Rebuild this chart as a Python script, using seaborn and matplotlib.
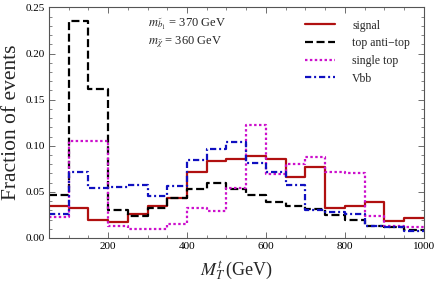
import numpy as np
import pandas as pd
import seaborn as sns
import matplotlib.pyplot as plt
from matplotlib.ticker import MultipleLocator, FormatStrFormatter

# bin edges of the transverse mass histogram (GeV)
edges = list(range(50, 1001, 50))

# fraction of events per bin
signal = [0.035, 0.033, 0.020, 0.017, 0.026, 0.035, 0.043, 0.071, 0.084, 0.086,
          0.089, 0.086, 0.066, 0.077, 0.032, 0.035, 0.039, 0.018, 0.022]
ttbar = [0.047, 0.235, 0.161, 0.030, 0.024, 0.032, 0.043, 0.053, 0.060, 0.053,
         0.047, 0.039, 0.035, 0.031, 0.025, 0.020, 0.0125, 0.012, 0.009]
single_top = [0.0225, 0.105, 0.105, 0.0135, 0.0095, 0.0095, 0.015, 0.032, 0.029, 0.054,
              0.122, 0.069, 0.080, 0.088, 0.071, 0.070, 0.024, 0.013, 0.012]
vbb = [0.026, 0.072, 0.054, 0.055, 0.057, 0.045, 0.056, 0.085, 0.097, 0.104,
       0.081, 0.071, 0.057, 0.0305, 0.028, 0.026, 0.0127, 0.012, 0.008]

labels = ['signal', 'top anti\u2212top', 'single top', 'Vbb']
colors = ['#b01010', '#000000', '#cc10cc', '#1010c0']
styles = ['-', (0, (3.6, 1.6)), (0, (1.1, 1.1)), (0, (2.8, 1.3, 0.9, 1.3))]

sns.set_style('ticks')
plt.rcParams['font.family'] = ['Liberation Serif', 'DejaVu Serif']
plt.rcParams['mathtext.fontset'] = 'stix'

centers = [(a + b) / 2 for a, b in zip(edges[:-1], edges[1:])]

fig = plt.figure(figsize=(4.36, 2.84), dpi=100)
ax = fig.add_axes([0.112, 0.162, 0.86, 0.812])

for vals, lab, col, ls in zip([signal, ttbar, single_top, vbb], labels, colors, styles):
    df = pd.DataFrame({'mt': centers, 'frac': vals})
    sns.histplot(data=df, x='mt', weights='frac', bins=edges, element='step',
                 fill=False, color=col, linewidth=1.6, linestyle=ls, label=lab, ax=ax)

ax.set_xlim(50, 1000)
ax.set_ylim(0, 0.25)
ax.xaxis.set_major_locator(MultipleLocator(200))
ax.xaxis.set_minor_locator(MultipleLocator(50))
ax.yaxis.set_major_locator(MultipleLocator(0.05))
ax.yaxis.set_minor_locator(MultipleLocator(0.01))
ax.yaxis.set_major_formatter(FormatStrFormatter('%.2f'))
ax.tick_params(which='both', direction='in', top=True, right=True, colors='#555555',
               labelcolor='black', labelsize=8, pad=3)
ax.tick_params(which='major', length=4, width=0.6)
ax.tick_params(which='minor', length=2, width=0.5)
for s in ax.spines.values():
    s.set_color('#555555')
    s.set_linewidth(0.8)

ax.set_xlabel(r'$M_T^t\,$(GeV)', fontsize=13)
ax.xaxis.set_label_coords(0.5, -0.095, transform=ax.transAxes)
ax.set_ylabel('Fraction of events', fontsize=15.5)
ax.yaxis.set_label_coords(-0.075, 0.5, transform=ax.transAxes)

ax.text(300, 0.232, r'$m_{\tilde{b}_1}$ = 370 GeV', fontsize=9, va='center')
ax.text(300, 0.212, r'$m_{\tilde{\chi}}$ = 360 GeV', fontsize=9, va='center')

ax.legend(loc='upper left', bbox_to_anchor=(0.683, 0.947), frameon=False, fontsize=8.5,
          handlelength=2.55, handletextpad=1.45, labelspacing=0.48,
          borderpad=0, borderaxespad=0)

fig.savefig('out.png', dpi=100)
